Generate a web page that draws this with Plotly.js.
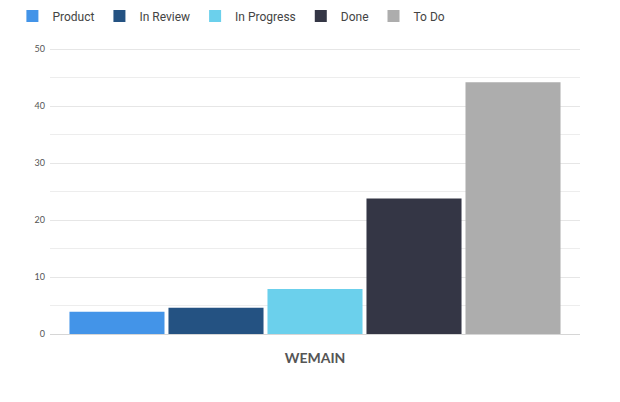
<!DOCTYPE html>
<html>
<head>
<meta charset="utf-8">
<script src="https://cdn.plot.ly/plotly-3.0.1.min.js"></script>
<style>
  html, body { margin: 0; padding: 0; background: #fff; }
  #chart { width: 620px; height: 402px; }
</style>
</head>
<body>
<div id="chart"></div>
<script>
const categories = ['WEMAIN'];
const seriesNames = ['Product', 'In Review', 'In Progress', 'Done', 'To Do'];
const seriesValues = [3.9, 4.6, 7.9, 23.8, 44.2];
const seriesColors = ['#4394e8', '#245282', '#6bd0ec', '#343645', '#adadad'];

const data = seriesNames.map((name, i) => ({
  x: categories,
  y: [seriesValues[i]],
  name: name,
  type: 'bar',
  marker: { color: seriesColors[i] }
}));

const layout = {
  width: 620,
  height: 402,
  margin: { l: 50, r: 40, t: 48, b: 68 },
  paper_bgcolor: '#fff',
  plot_bgcolor: '#fff',
  barmode: 'group',
  bargap: 0.066,
  bargroupgap: 0.04,
  font: { family: 'Lato, sans-serif', color: '#555' },
  showlegend: true,
  legend: {
    orientation: 'h',
    x: 0.02, xanchor: 'left',
    y: 0.96, yanchor: 'middle',
    xref: 'container', yref: 'container',
    font: { family: 'Roboto, sans-serif', size: 12, color: '#444' },
    traceorder: 'normal'
  },
  xaxis: {
    type: 'category',
    showgrid: false,
    zeroline: false,
    showline: false,
    tickfont: { family: 'Lato, sans-serif', size: 14, color: '#555', weight: 'bold' },
    ticklabelstandoff: 14
  },
  yaxis: {
    range: [0, 50.2],
    tickvals: [0, 10, 20, 30, 40, 50],
    showgrid: true,
    gridcolor: '#e6e6e6',
    zeroline: true,
    zerolinecolor: '#d6d6d6',
    zerolinewidth: 1,
    tickfont: { family: 'Lato, sans-serif', size: 9, color: '#555' },
    ticklabelstandoff: 4,
    minor: { tickvals: [5, 15, 25, 35, 45], showgrid: true, gridcolor: '#ededed' }
  }
};

Plotly.newPlot('chart', data, layout, { displayModeBar: false, staticPlot: true });
</script>
</body>
</html>
